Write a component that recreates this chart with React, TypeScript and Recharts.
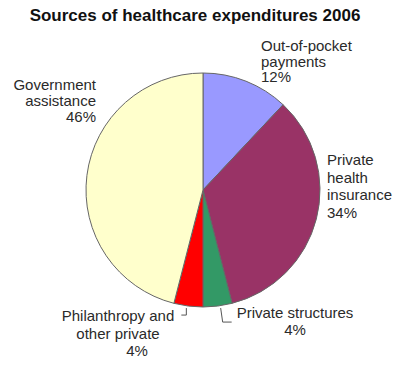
import { PieChart, Pie, Cell } from "recharts";

const categories = [
  "Out-of-pocket payments",
  "Private health insurance",
  "Private structures",
  "Philanthropy and other private",
  "Government assistance",
];
const shares = [12, 34, 4, 4, 46];
const colors = ["#9999FF", "#993366", "#339966", "#FF0000", "#FFFFCC"];
const labelText = [
  ["Out-of-pocket", "payments", "12%"],
  ["Private", "health", "insurance", "34%"],
  ["Private structures", "4%"],
  ["Philanthropy and", "other private", "4%"],
  ["Government", "assistance", "46%"],
];

const data = categories.map((name, i) => ({ name, value: shares[i] }));

// where each text block sits, relative to the pie centre
const LABEL_POS = [
  { dx: 58, dy: -139, lh: 15.5, anchor: "start", ldx: [0, 0, 0] },
  { dx: 124, dy: -25, lh: 17.5, anchor: "start", ldx: [0, 0, 0, 0] },
  { dx: 92, dy: 128, lh: 17, anchor: "middle", ldx: [0, 0] },
  { dx: -85, dy: 131, lh: 17.5, anchor: "middle", ldx: [0, 0, 19] },
  { dx: -107, dy: -100, lh: 16, anchor: "end", ldx: [0, 0, 0] },
];

const RAD = Math.PI / 180;

const renderLabel = (props: any) => {
  const { cx, cy, midAngle, outerRadius, index } = props;
  const pos = LABEL_POS[index];
  const ex = cx + outerRadius * Math.cos(-midAngle * RAD);
  const ey = cy + outerRadius * Math.sin(-midAngle * RAD);
  let leader = null;
  if (index === 2) {
    leader = (
      <polyline
        points={`${ex + 3},${ey + 2} ${ex + 5},${ey + 16} ${ex + 14},${ey + 16}`}
        fill="none"
        stroke="#555"
        strokeWidth={1}
      />
    );
  } else if (index === 3) {
    leader = (
      <polyline
        points={`${ex - 2},${ey + 2} ${ex - 2},${ey + 9} ${ex - 7},${ey + 9}`}
        fill="none"
        stroke="#555"
        strokeWidth={1}
      />
    );
  }
  return (
    <g>
      {leader}
      <text
        x={cx + pos.dx}
        y={cy + pos.dy}
        textAnchor={pos.anchor as any}
        fill="#2a2a2a"
        fontSize={15}
        fontFamily="Liberation Sans, Arial, sans-serif"
      >
        {labelText[index].map((line, j) => (
          <tspan key={j} x={cx + pos.dx + pos.ldx[j]} dy={j === 0 ? 0 : pos.lh}>
            {line}
          </tspan>
        ))}
      </text>
    </g>
  );
};

export default function App() {
  return (
    <div style={{ position: "absolute", left: 0, top: 0, width: 400, height: 375, background: "#fff" }}>
      <PieChart width={400} height={375} margin={{ top: 0, right: 0, bottom: 0, left: 0 }}>
        <text
          x={195}
          y={21}
          textAnchor="middle"
          fontSize={17}
          fontWeight="bold"
          fill="#111"
          fontFamily="Liberation Sans, Arial, sans-serif"
        >
          Sources of healthcare expenditures 2006
        </text>
        <Pie
          data={data}
          dataKey="value"
          nameKey="name"
          cx={203}
          cy={190}
          outerRadius={117}
          startAngle={90}
          endAngle={-270}
          stroke="#666"
          strokeWidth={1}
          label={renderLabel}
          labelLine={false}
          isAnimationActive={false}
        >
          {data.map((_, i) => (
            <Cell key={i} fill={colors[i]} />
          ))}
        </Pie>
      </PieChart>
    </div>
  );
}
